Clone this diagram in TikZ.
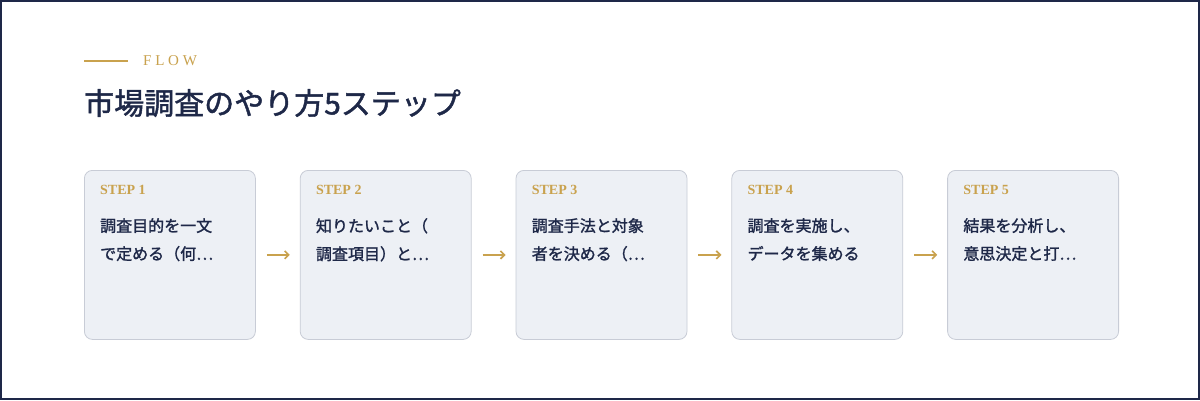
\documentclass[tikz,border=0pt]{standalone}
\usepackage{fontspec}
\setmainfont{Liberation Serif}
\newfontfamily\cjk{Noto Sans CJK JP}
\newfontfamily\cjkb{Noto Sans CJK JP}[FakeBold=1.5]
\usetikzlibrary{positioning,arrows.meta}
\definecolor{nv}{RGB}{30, 40, 72}
\definecolor{gd}{RGB}{201, 162, 78}
\definecolor{bx}{RGB}{237, 240, 245}
\definecolor{bd}{RGB}{200, 204, 214}
\tikzset{
  stepbox/.style={rectangle, rounded corners=8pt, draw=bd, fill=bx, line width=0.8pt,
    minimum width=171pt, minimum height=169pt, inner sep=0pt},
  lbl/.style={anchor=north west, inner sep=0pt, text=gd, font=\fontsize{14}{14}\selectfont\bfseries},
  txt/.style={anchor=north west, inner sep=0pt, text=nv, align=left,
    font=\fontsize{16}{28}\cjkb},
  arr/.style={color=gd, ->, line width=1.6pt, >={Straight Barb[length=4pt,width=8pt]}}
}
\begin{document}
\begin{tikzpicture}[x=1pt,y=1pt]
\draw[nv, line width=2pt, fill=white] (1,1) rectangle (1199,399);
\useasboundingbox (0,0) rectangle (1200,400);
\coordinate (L0) at (84,339);
\coordinate (L1) at (128,339);
\draw[gd, line width=1.5pt] (L0) -- (L1);
\node[anchor=west, inner sep=0pt, text=gd, font=\fontsize{15}{15}\selectfont\addfontfeature{LetterSpace=25}] (flow) at (143,339) {FLOW};
\node[anchor=west, inner sep=0pt, text=nv, font=\fontsize{30}{30}\cjkb] (title) at (84,297) {市場調査のやり方5ステップ};

\node[stepbox, anchor=north west] (s1) at (84,230) {};
\node[stepbox, right=44pt of s1] (s2) {};
\node[stepbox, right=44pt of s2] (s3) {};
\node[stepbox, right=44pt of s3] (s4) {};
\node[stepbox, right=44pt of s4] (s5) {};

\node[lbl] (l1) at ([xshift=16pt,yshift=-15pt]s1.north west) {STEP 1};
\node[lbl] (l2) at ([xshift=16pt,yshift=-15pt]s2.north west) {STEP 2};
\node[lbl] (l3) at ([xshift=16pt,yshift=-15pt]s3.north west) {STEP 3};
\node[lbl] (l4) at ([xshift=16pt,yshift=-15pt]s4.north west) {STEP 4};
\node[lbl] (l5) at ([xshift=16pt,yshift=-15pt]s5.north west) {STEP 5};

\node[txt] (t1) at ([xshift=16pt,yshift=-48pt]s1.north west) {調査目的を一文\\で定める（何…};
\node[txt] (t2) at ([xshift=16pt,yshift=-48pt]s2.north west) {知りたいこと（\\調査項目）と…};
\node[txt] (t3) at ([xshift=16pt,yshift=-48pt]s3.north west) {調査手法と対象\\者を決める（…};
\node[txt] (t4) at ([xshift=16pt,yshift=-48pt]s4.north west) {調査を実施し、\\データを集める};
\node[txt] (t5) at ([xshift=16pt,yshift=-48pt]s5.north west) {結果を分析し、\\意思決定と打…};

\draw[arr] ([xshift=11pt]s1.east) -- ([xshift=-10pt]s2.west);
\draw[arr] ([xshift=11pt]s2.east) -- ([xshift=-10pt]s3.west);
\draw[arr] ([xshift=11pt]s3.east) -- ([xshift=-10pt]s4.west);
\draw[arr] ([xshift=11pt]s4.east) -- ([xshift=-10pt]s5.west);
\end{tikzpicture}
\end{document}
